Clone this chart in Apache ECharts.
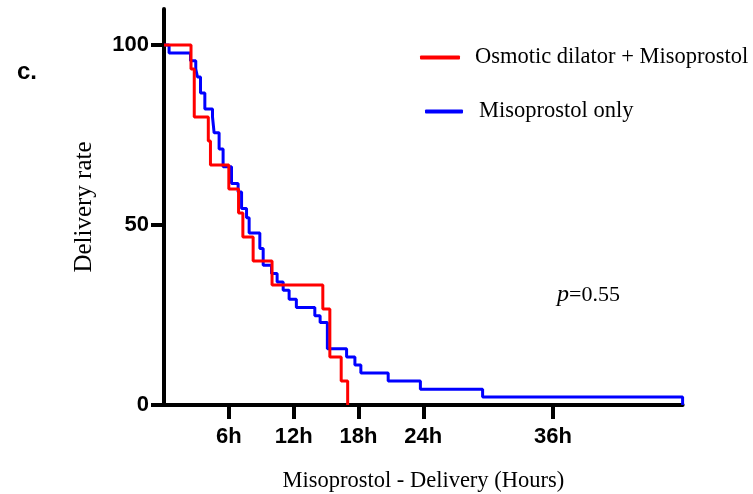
<!DOCTYPE html>
<html>
<head>
<meta charset="utf-8">
<script src="https://cdn.jsdelivr.net/npm/echarts@6/dist/echarts.min.js"></script>
<style>
html,body{margin:0;padding:0;background:#fff;}
#chart{width:753px;height:494px;}
</style>
</head>
<body>
<div id="chart"></div>
<script>
// Kaplan-Meier style step data: [hours, delivery-rate remaining %]
const seriesNames = ['Osmotic dilator + Misoprostol', 'Misoprostol only'];
const redTimes  = [0, 2.5, 2.8, 4.1, 4.3, 6.0, 6.9, 7.3, 8.25, 10.0, 14.7, 15.35, 16.4, 17.0];
const redValues = [100, 93.3, 80, 73.3, 66.7, 60, 53.3, 46.7, 40, 33.3, 26.7, 13.3, 6.7, 0];
const blueTimes  = [0, 0.47, 2.45, 2.94, 3.1, 3.38, 3.78, 4.49, 4.64, 5.1, 5.47, 6.25, 6.86, 7.18, 7.64, 7.88, 8.87, 9.18, 9.95, 10.47, 11.03, 11.58, 12.25, 13.96, 14.45, 15.12, 16.9, 17.67, 18.22, 20.75, 23.73, 29.49, 48.0];
const blueValues = [100, 97.8, 95.6, 93.3, 91.1, 86.7, 82.2, 80, 75.6, 71.1, 66.2, 61.5, 59.2, 54.6, 52.0, 47.8, 43.5, 38.8, 36.5, 34.2, 31.9, 29.4, 27.1, 24.8, 22.9, 15.6, 13.3, 11.1, 8.9, 6.7, 4.4, 2.2, 0];
const xTickValues = [6, 12, 18, 24, 36];
const yTickValues = [0, 50, 100];
const pValueText = '0.55';
const panelLabel = 'c.';

const zip = (a, b) => a.map((v, i) => [v, b[i]]);
const tickFont = '"Liberation Sans", Arial, sans-serif';
const serif = '"Liberation Serif", "Times New Roman", serif';

const chart = echarts.init(document.getElementById('chart'));
chart.setOption({
  animation: false,
  backgroundColor: '#fff',
  grid: { left: 164, right: 70.4, top: 9, bottom: 89, containLabel: false, outerBoundsMode: 'none' },
  xAxis: {
    type: 'value', min: 0, max: 48,
    name: 'Misoprostol - Delivery (Hours)',
    nameLocation: 'middle', nameGap: 65,
    nameTextStyle: { fontFamily: serif, fontSize: 22.5, color: '#000' },
    axisLine: { lineStyle: { color: '#000', width: 4 } },
    axisTick: { show: true, customValues: xTickValues, length: 14, lineStyle: { color: '#000', width: 4 } },
    axisLabel: { customValues: xTickValues, formatter: v => v + 'h', margin: 21,
      fontFamily: tickFont, fontWeight: 'bold', fontSize: 22, color: '#000' },
    splitLine: { show: false }
  },
  yAxis: {
    type: 'value', min: 0, max: 110,
    name: 'Delivery rate',
    nameLocation: 'middle', nameGap: 67, nameRotate: 90,
    nameTextStyle: { fontFamily: serif, fontSize: 25, color: '#000' },
    axisLine: { show: true, lineStyle: { color: '#000', width: 4 } },
    axisTick: { show: true, customValues: yTickValues, length: 13, lineStyle: { color: '#000', width: 4 } },
    axisLabel: { customValues: yTickValues, margin: 15,
      fontFamily: tickFont, fontWeight: 'bold', fontSize: 22, color: '#000' },
    splitLine: { show: false }
  },
  legend: [
    { data: [seriesNames[0]], left: 415, top: 41, itemWidth: 40, itemHeight: 4, icon: 'roundRect', itemGap: 0,
      textStyle: { fontFamily: serif, fontSize: 22.5, color: '#000', padding: [0, 0, 0, 10] } },
    { data: [seriesNames[1]], left: 420, top: 95, itemWidth: 38, itemHeight: 4, icon: 'roundRect', itemGap: 0,
      textStyle: { fontFamily: serif, fontSize: 22.5, color: '#000', padding: [0, 0, 0, 11] } }
  ],
  graphic: [
    { type: 'text', left: 17, top: 60,
      style: { text: panelLabel, fontFamily: tickFont, fontWeight: 'bold', fontSize: 24, fill: '#000' } },
    { type: 'text', left: 557, top: 283,
      style: { text: '{i|p}{n|=' + pValueText + '}',
        rich: { i: { fontFamily: serif, fontStyle: 'italic', fontSize: 24, fill: '#000' },
                n: { fontFamily: serif, fontSize: 22, fill: '#000' } } } }
  ],
  series: [
    { name: seriesNames[1], type: 'line', step: 'end', data: zip(blueTimes, blueValues),
      showSymbol: false, color: '#0000ff', lineStyle: { color: '#0000ff', width: 3 }, z: 2 },
    { name: seriesNames[0], type: 'line', step: 'end', data: zip(redTimes, redValues),
      showSymbol: false, color: '#ff0000', lineStyle: { color: '#ff0000', width: 3 }, z: 3 }
  ]
});
</script>
</body>
</html>
